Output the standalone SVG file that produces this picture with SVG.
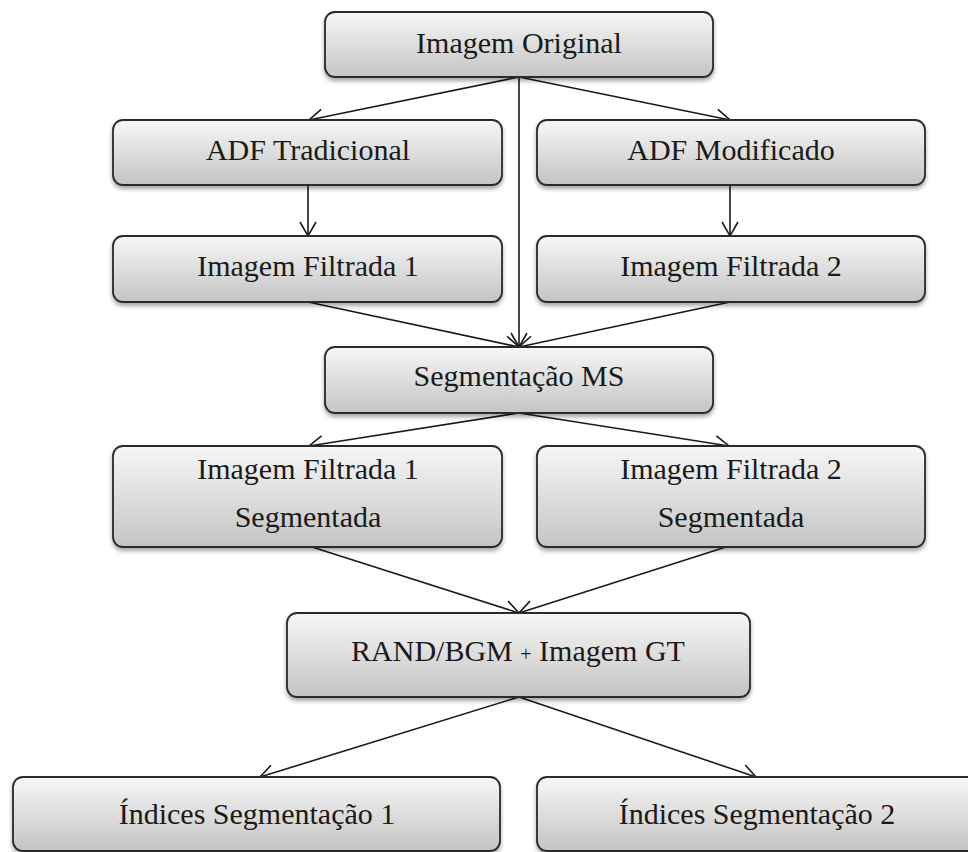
<svg xmlns="http://www.w3.org/2000/svg" width="968" height="852" viewBox="0 0 968 852">
<style>
  .box { fill: url(#g); stroke: #2a2a2a; stroke-width: 1.8; filter: url(#sh); }
  .t { font-family: "Liberation Serif", "Times New Roman", serif; font-size: 30px; fill: #1a1a1a; text-anchor: middle; }
  .c { stroke: #1a1a1a; stroke-width: 1.6; fill: none; marker-end: url(#ah); }
</style>
<defs>
  <linearGradient id="g" x1="0" y1="0" x2="0" y2="1">
    <stop offset="0" stop-color="#f7f7f7"/>
    <stop offset="1" stop-color="#c4c4c4"/>
  </linearGradient>
  <filter id="sh" x="-10%" y="-20%" width="120%" height="150%">
    <feDropShadow dx="0" dy="3" stdDeviation="2.2" flood-color="#000" flood-opacity="0.35"/>
  </filter>
  <marker id="ah" viewBox="-16 -10 18 20" refX="0" refY="0" markerWidth="18" markerHeight="20" markerUnits="userSpaceOnUse" orient="auto">
    <path d="M-14,-8 L0,0 L-14,8" fill="none" stroke="#1a1a1a" stroke-width="1.6"/>
  </marker>
</defs>
<rect width="968" height="852" fill="#ffffff"/>

<g id="connectors">
  <line class="c" x1="519" y1="77" x2="309" y2="120"/>
  <line class="c" x1="519" y1="77" x2="730" y2="120"/>
  <line class="c" x1="519" y1="77" x2="519" y2="347"/>
  <line class="c" x1="308" y1="185" x2="308" y2="236"/>
  <line class="c" x1="730" y1="185" x2="730" y2="236"/>
  <line class="c" x1="308" y1="302" x2="519" y2="347"/>
  <line class="c" x1="730" y1="302" x2="519" y2="347"/>
  <line class="c" x1="519" y1="413" x2="309" y2="446"/>
  <line class="c" x1="519" y1="413" x2="729" y2="446"/>
  <line class="c" x1="312" y1="547" x2="519" y2="613"/>
  <line class="c" x1="726" y1="547" x2="519" y2="613"/>
  <line class="c" x1="519" y1="697" x2="260" y2="777"/>
  <line class="c" x1="519" y1="697" x2="756" y2="777"/>
</g>

<g id="imagem-original">
  <rect class="box" x="325" y="12" width="388" height="65" rx="10"/>
  <text class="t" x="519" y="53">Imagem Original</text>
</g>
<g id="adf-tradicional">
  <rect class="box" x="113" y="120" width="389" height="65" rx="10"/>
  <text class="t" x="308" y="160">ADF Tradicional</text>
</g>
<g id="adf-modificado">
  <rect class="box" x="537" y="120" width="388" height="65" rx="10"/>
  <text class="t" x="731" y="160">ADF Modificado</text>
</g>
<g id="imagem-filtrada-1">
  <rect class="box" x="113" y="236" width="389" height="66" rx="10"/>
  <text class="t" x="308" y="276">Imagem Filtrada 1</text>
</g>
<g id="imagem-filtrada-2">
  <rect class="box" x="537" y="236" width="388" height="66" rx="10"/>
  <text class="t" x="731" y="276">Imagem Filtrada 2</text>
</g>
<g id="segmentacao-ms">
  <rect class="box" x="325" y="347" width="388" height="66" rx="10"/>
  <text class="t" x="519" y="386">Segmentação MS</text>
</g>
<g id="filtrada-1-segmentada">
  <rect class="box" x="113" y="446" width="389" height="101" rx="10"/>
  <text class="t" x="308" y="479">Imagem Filtrada 1</text>
  <text class="t" x="308" y="527">Segmentada</text>
</g>
<g id="filtrada-2-segmentada">
  <rect class="box" x="537" y="446" width="388" height="101" rx="10"/>
  <text class="t" x="731" y="479">Imagem Filtrada 2</text>
  <text class="t" x="731" y="527">Segmentada</text>
</g>
<g id="rand-bgm">
  <rect class="box" x="287" y="613" width="463" height="84" rx="10"/>
  <text class="t" x="518" y="661">RAND/BGM <tspan font-size="20">+</tspan> Imagem GT</text>
</g>
<g id="indices-1">
  <rect class="box" x="13" y="777" width="487" height="74" rx="10"/>
  <text class="t" x="257" y="824">Índices Segmentação 1</text>
</g>
<g id="indices-2">
  <rect class="box" x="537" y="777" width="440" height="74" rx="10"/>
  <text class="t" x="757" y="824">Índices Segmentação 2</text>
</g>
</svg>
